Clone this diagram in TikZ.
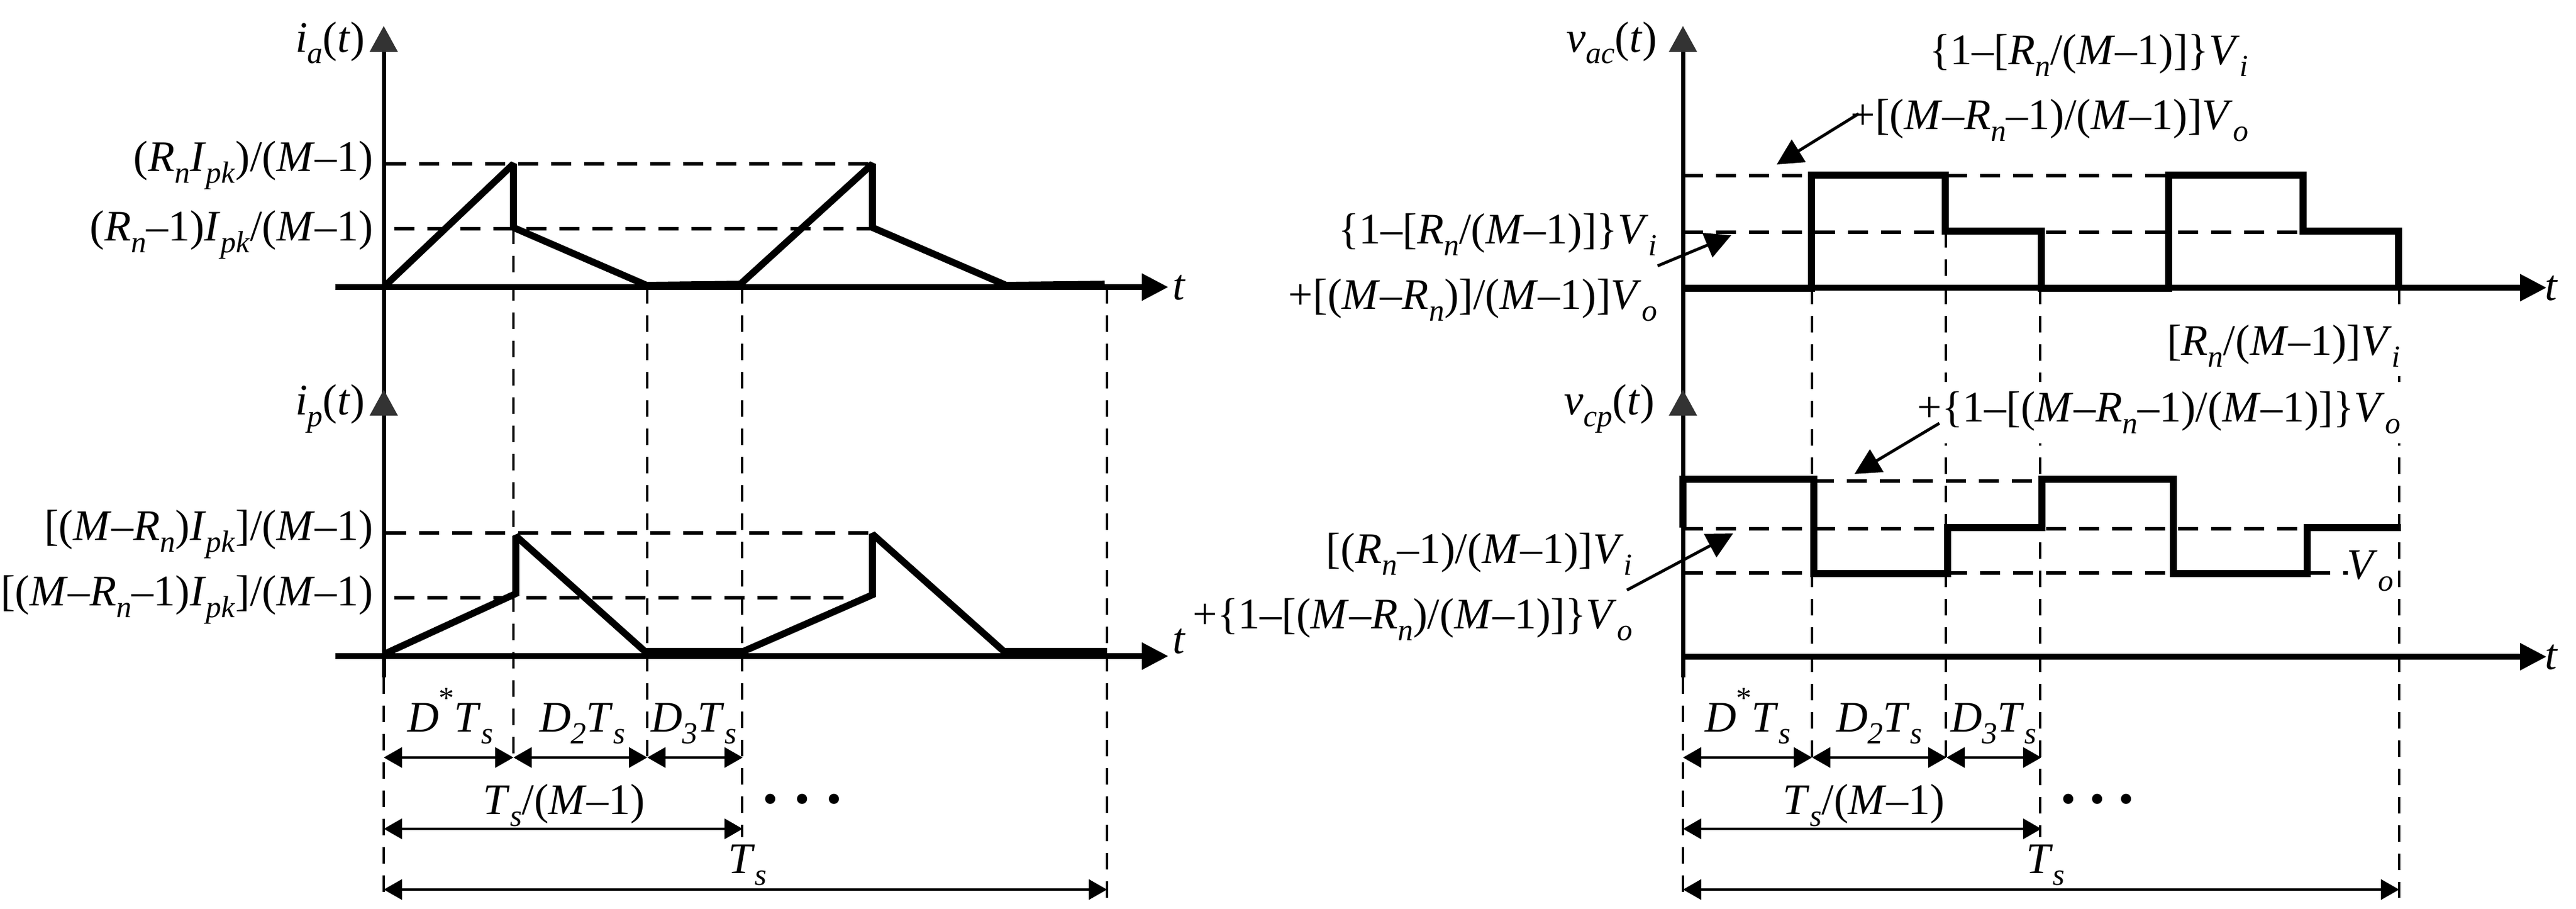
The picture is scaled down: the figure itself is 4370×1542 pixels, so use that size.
\documentclass[tikz,border=0pt]{standalone}
\usepackage{fontspec}
\setmainfont{Liberation Serif}
\usetikzlibrary{arrows.meta}
\newcommand{\dn}[1]{\raisebox{-5pt}{\fontsize{13}{13}\selectfont\textit{#1}}}
\newcommand{\ii}[1]{\textit{#1}}
\newcommand{\ipk}{\ii{I}\dn{pk}}
\newcommand{\dstar}{\raisebox{10pt}{\fontsize{13}{13}\selectfont *}}
\tikzset{
	lab/.style={inner sep=0pt,font=\fontsize{18.5}{20}\selectfont},
	labr/.style={lab,anchor=base east},
	labw/.style={labr,fill=white,inner ysep=4pt},
	labc/.style={lab,anchor=base},
	dotrow/.style={inner sep=0pt,anchor=center,font=\fontsize{18}{18}\selectfont},
	wave/.style={line width=2.9pt,line join=miter,miter limit=2},
	yaxis/.style={line width=1.75pt,-{Triangle[length=11pt,width=11.5pt,fill=black!80,color=black!80]}},
	xaxis/.style={line width=2.4pt,-{Triangle[length=11.25pt,width=11pt]}},
	level/.style={line width=1.4pt,dash pattern=on 8.5pt off 5.5pt},
	drop/.style={line width=1pt,dash pattern=on 7pt off 5pt},
	span/.style={line width=1.2pt,{Triangle[length=7.75pt,width=8.5pt]}-{Triangle[length=7.75pt,width=8.5pt]}},
	note/.style={line width=1.25pt,-{Triangle[length=11pt,width=11pt]}},
}
\begin{document}
\begin{tikzpicture}[x=0.25pt,y=0.25pt,yscale=-1,xscale=1]
	\useasboundingbox (0,0) rectangle (4370,1542);

	% Left axes
	\draw [yaxis] (651,703) -- (651,44) ;
	\draw [yaxis] (651,1149) -- (651,661) ;
	\draw [xaxis] (569,487) -- (1982,487) ;
	\draw [xaxis] (569,1113) -- (1982,1113) ;

	% Left levels and drops
	\draw [level] (655,278) -- (1480,278) ;
	\draw [level] (669,388) -- (1484,388) ;
	\draw [level] (655,904) -- (1477,904) ;
	\draw [level] (669,1014) -- (1449,1014) ;
	\draw [drop] (651,1149) -- (651,1523) ;
	\draw [drop] (871,386) -- (871,1285) ;
	\draw [drop] (1098,487) -- (1098,1285) ;
	\draw [drop] (1259,487) -- (1259,1420) ;
	\draw [drop] (1878,487) -- (1878,1523) ;

	% Left waves
	\draw [wave] (651,487) -- (871,278) -- (871,386) -- (1097,484) -- (1256,482) -- (1480,278) -- (1480,386) -- (1707,484) -- (1874,482) ;
	\draw [wave] (651,1110) -- (875,1007) -- (875,909) -- (1094,1105) -- (1261,1105) -- (1480,1009) -- (1480,906) -- (1703,1105) -- (1878,1105) ;

	% Left spans
	\coordinate (la) at (651,1285);
	\coordinate (lb) at (871,1285);
	\coordinate (lc) at (1098,1285);
	\coordinate (ld) at (1260,1285);
	\draw [span] (la) -- (lb) ;
	\draw [span] (lb) -- (lc) ;
	\draw [span] (lc) -- (ld) ;
	\coordinate (le) at (651,1406);
	\coordinate (lf) at (1260,1406);
	\draw [span] (le) -- (lf) ;
	\coordinate (lg) at (651,1509);
	\coordinate (lh) at (1878,1509);
	\draw [span] (lg) -- (lh) ;

	% Left text
	\node (ia) [labr] at (620,88) {\ii{i}\dn{a}(\ii{t})};
	\node (ip) [labr] at (620,703) {\ii{i}\dn{p}(\ii{t})};
	\node (ipa) [labr] at (634,290) {(\ii{R}\dn{n}\ipk)/(\ii{M}–1)};
	\node (ipb) [labr] at (634,408) {(\ii{R}\dn{n}–1)\ipk/(\ii{M}–1)};
	\node (ipc) [labr] at (634,916) {[(\ii{M}–\ii{R}\dn{n})\ipk]/(\ii{M}–1)};
	\node (ipd) [labr] at (634,1027) {[(\ii{M}–\ii{R}\dn{n}–1)\ipk]/(\ii{M}–1)};
	\node (ta) [labc] at (2000,508) {\ii{t}};
	\node (tb) [labc] at (2000,1108) {\ii{t}};
	\node (dla) [labc] at (764,1241) {\ii{D}\dstar\ii{T}\dn{s}};
	\node (dlb) [labc] at (988,1241) {\ii{D}\dn{2}\ii{T}\dn{s}};
	\node (dlc) [labc] at (1177,1241) {\ii{D}\dn{3}\ii{T}\dn{s}};
	\node (dld) [labc] at (957,1381) {\ii{T}\dn{s}/(\ii{M}–1)};
	\node (dle) [labc] at (1268,1481) {\ii{T}\dn{s}};
	\node (dlf) [dotrow] at (1361,1363) {\textbullet\hspace{7.2pt}\textbullet\hspace{7.2pt}\textbullet};

	% Right axes
	\draw [yaxis] (2855,703) -- (2855,44) ;
	\draw [yaxis] (2855,1149) -- (2855,661) ;
	\draw [xaxis] (2855,488) -- (4320,488) ;
	\draw [xaxis] (2855,1114) -- (4320,1114) ;

	% Right levels and drops
	\draw [level] (2855,298) -- (3679,298) ;
	\draw [level] (2855,394) -- (3907,394) ;
	\draw [level] (3077,816) -- (3464,816) ;
	\draw [level] (2855,897) -- (3913,897) ;
	\draw [level] (2855,972) -- (3983,972) ;
	\draw [drop] (2855,1149) -- (2855,1523) ;
	\draw [drop] (3074,488) -- (3074,1285) ;
	\draw [drop] (3301,392) -- (3301,1285) ;
	\draw [drop] (3461,488) -- (3461,1420) ;
	\draw [drop] (4070,488) -- (4070,1523) ;

	% Right waves
	\draw [wave] (2855,489) -- (3073,489) -- (3073,297) -- (3300,297) -- (3300,392) -- (3463,392) -- (3463,489) -- (3679,489) -- (3679,297) -- (3907,297) -- (3907,392) -- (4069,392) -- (4069,488) ;
	\draw [wave] (2855,895) -- (2855,813) -- (3077,813) -- (3077,973) -- (3304,973) -- (3304,895) -- (3464,895) -- (3464,813) -- (3687,813) -- (3687,973) -- (3914,973) -- (3914,895) -- (4073,895) ;

	% Right spans
	\coordinate (ra) at (2855,1285);
	\coordinate (rb) at (3074,1285);
	\coordinate (rc) at (3302,1285);
	\coordinate (rd) at (3463,1285);
	\draw [span] (ra) -- (rb) ;
	\draw [span] (rb) -- (rc) ;
	\draw [span] (rc) -- (rd) ;
	\coordinate (re) at (2855,1406);
	\coordinate (rf) at (3463,1406);
	\draw [span] (re) -- (rf) ;
	\coordinate (rg) at (2855,1509);
	\coordinate (rh) at (4070,1509);
	\draw [span] (rg) -- (rh) ;

	% Right text
	\node (vac) [labr] at (2812,88) {\ii{v}\dn{ac}(\ii{t})};
	\node (vcp) [labr] at (2808,703) {\ii{v}\dn{cp}(\ii{t})};
	\node (vtopa) [labr] at (3815,109) {\{1–[\ii{R}\dn{n}/(\ii{M}–1)]\}\ii{V}\dn{i}};
	\node (vtopb) [labr] at (3815,219) {+[(\ii{M}–\ii{R}\dn{n}–1)/(\ii{M}–1)]\ii{V}\dn{o}};
	\node (vmida) [labr] at (2812,413) {\{1–[\ii{R}\dn{n}/(\ii{M}–1)]\}\ii{V}\dn{i}};
	\node (vmidb) [labr] at (2812,524) {+[(\ii{M}–\ii{R}\dn{n})]/(\ii{M}–1)]\ii{V}\dn{o}};
	\node (vlow) [labw] at (4073,602) {[\ii{R}\dn{n}/(\ii{M}–1)]\ii{V}\dn{i}};
	\node (vcpa) [labw] at (4073,715) {+\{1–[(\ii{M}–\ii{R}\dn{n}–1)/(\ii{M}–1)]\}\ii{V}\dn{o}};
	\node (vcpb) [labr] at (2770,955) {[(\ii{R}\dn{n}–1)/(\ii{M}–1)]\ii{V}\dn{i}};
	\node (vcpc) [labr] at (2770,1066) {+\{1–[(\ii{M}–\ii{R}\dn{n})/(\ii{M}–1)]\}\ii{V}\dn{o}};
	\node (vo) [labc] at (4021,982) {\ii{V}\dn{o}};
	\node (tc) [labc] at (4328,509) {\ii{t}};
	\node (td) [labc] at (4328,1135) {\ii{t}};
	\node (dra) [labc] at (2965,1241) {\ii{D}\dstar\ii{T}\dn{s}};
	\node (drb) [labc] at (3188,1241) {\ii{D}\dn{2}\ii{T}\dn{s}};
	\node (drc) [labc] at (3382,1241) {\ii{D}\dn{3}\ii{T}\dn{s}};
	\node (drd) [labc] at (3162,1381) {\ii{T}\dn{s}/(\ii{M}–1)};
	\node (dre) [labc] at (3470,1481) {\ii{T}\dn{s}};
	\node (drf) [dotrow] at (3558,1363) {\textbullet\hspace{6pt}\textbullet\hspace{6pt}\textbullet};

	% Notes
	\coordinate (na) at (3153,193);
	\coordinate (nb) at (3014,279);
	\coordinate (nc) at (2812,451);
	\coordinate (nd) at (2937,399);
	\coordinate (ne) at (3290,718);
	\coordinate (nf) at (3146,804);
	\coordinate (ng) at (2760,1001);
	\coordinate (nh) at (2940,905);
	\draw [note] (na) -- (nb) ;
	\draw [note] (nc) -- (nd) ;
	\draw [note] (ne) -- (nf) ;
	\draw [note] (ng) -- (nh) ;
\end{tikzpicture}
\end{document}
